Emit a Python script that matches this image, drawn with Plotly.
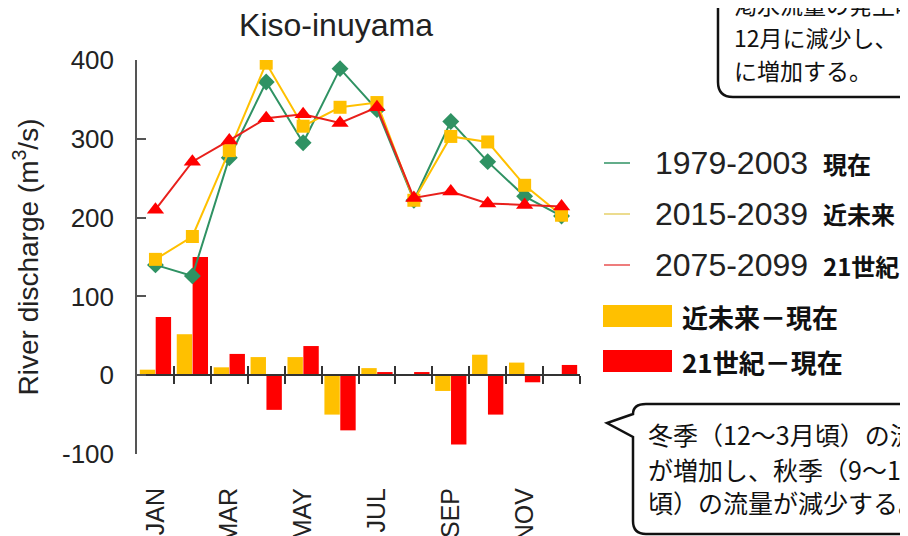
import plotly.graph_objects as go

# ---------------- data ----------------
months = ["JAN", "FEB", "MAR", "APR", "MAY", "JUN", "JUL", "AUG", "SEP", "OCT", "NOV", "DEC"]
month_num = list(range(1, 13))
tick_pos = [1, 3, 5, 7, 9, 11]
tick_months = ["JAN", "MAR", "MAY", "JUL", "SEP", "NOV"]
boundary_ticks = [1.5, 2.5, 3.5, 4.5, 5.5, 6.5, 7.5, 8.5, 9.5, 10.5, 11.5, 12.5]
y_ticks = [-100, 0, 100, 200, 300, 400]
y_tick_labels = ["-100", "0", "100", "200", "300", "400"]

present_1979_2003 = [140, 126, 276, 372, 295, 389, 337, 222, 322, 271, 227, 202]
near_2015_2039 = [147, 176, 285, 396, 316, 340, 346, 222, 303, 296, 241, 203]
late_2075_2099 = [210, 271, 298, 326, 331, 320, 340, 225, 233, 218, 216, 214]

diff_near_minus_present = [7, 52, 10, 23, 23, -50, 9, 0, -20, 26, 16, 0]
diff_late_minus_present = [74, 150, 27, -44, 37, -70, 4, 4, -88, -50, -9, 13]

series_names = ["1979-2003", "2015-2039", "2075-2099"]
series_tags = ["現在", "近未来", "21世紀"]
bar_names = ["近未来－現在", "21世紀－現在"]

# ---------------- styles ----------------
GREEN = "#2f9263"
YELLOW = "#ffc000"
RED = "#ff0000"
LATIN = "Liberation Sans, Arial, sans-serif"
CJK = "Noto Sans CJK JP, sans-serif"

W, H = 908, 536
OFF = 8  # page body margin: figure origin sits 8px right/down in the window
# plot area in window pixels
WL, WR, WT, WB = 137, 580, 60, 454
L, R, T, B = WL - OFF, WR - OFF, WT - OFF, WB - OFF


def px(x):
    """window x pixel -> paper fraction"""
    return (x - OFF - L) / (R - L)


def py(y):
    """window y pixel -> paper fraction"""
    return (B - (y - OFF)) / (B - T)


fig = go.Figure()

# difference bars (base axis, drawn below lines)
fig.add_trace(go.Bar(x=month_num, y=diff_near_minus_present, name=bar_names[0],
                     marker=dict(color=YELLOW, line=dict(width=0)), showlegend=False))
fig.add_trace(go.Bar(x=month_num, y=diff_late_minus_present, name=bar_names[1],
                     marker=dict(color=RED, line=dict(width=0)), showlegend=False))

# discharge lines (overlay axis on the zero line)
fig.add_trace(go.Scatter(x=month_num, y=present_1979_2003, name=series_names[0], xaxis="x2",
                         mode="lines+markers", line=dict(color=GREEN, width=2),
                         marker=dict(symbol="diamond", size=13, color=GREEN), showlegend=False))
fig.add_trace(go.Scatter(x=month_num, y=near_2015_2039, name=series_names[1], xaxis="x2",
                         mode="lines+markers", line=dict(color=YELLOW, width=2),
                         marker=dict(symbol="square", size=13, color=YELLOW), showlegend=False))
fig.add_trace(go.Scatter(x=month_num, y=late_2075_2099, name=series_names[2], xaxis="x2",
                         mode="lines+markers", line=dict(color="#e8201c", width=2),
                         marker=dict(symbol="triangle-up", size=15, color=RED), showlegend=False))
# carrier for the upward half of the zero-line ticks
fig.add_trace(go.Scatter(x=[None], y=[None], xaxis="x3", showlegend=False, hoverinfo="skip"))

x_range = [0.5, 12.5]
zero_pos = (0 - y_ticks[0]) / (y_ticks[-1] - y_ticks[0])

fig.update_layout(
    width=W, height=H,
    margin=dict(l=L, r=W - R, t=T, b=H - B, pad=0, autoexpand=False),
    paper_bgcolor="white", plot_bgcolor="white",
    barmode="group", bargap=0.14, bargroupgap=0.03,
    showlegend=False,
    title=dict(text="Kiso-inuyama", font=dict(family=LATIN, size=32, color="#222"),
               x=px(336), xref="paper", xanchor="center",
               y=1 - (25 - OFF) / H, yref="container", yanchor="middle", automargin=False),
    xaxis=dict(range=x_range, tickmode="array", tickvals=tick_pos, ticktext=tick_months,
               tickangle=-90, ticks="", showline=False, showgrid=False, zeroline=False,
               automargin=False,
               tickfont=dict(family=LATIN, size=25, color="#222"), ticklabelstandoff=28),
    xaxis2=dict(range=x_range, overlaying="x", anchor="free", position=zero_pos,
                tickmode="array", tickvals=boundary_ticks, ticks="outside", ticklen=8,
                tickwidth=1.5, tickcolor="#333", showline=True, linecolor="#333", linewidth=1.5,
                showticklabels=False, showgrid=False, zeroline=False, automargin=False),
    xaxis3=dict(range=x_range, overlaying="x", anchor="free", position=zero_pos,
                tickmode="array", tickvals=boundary_ticks, ticks="inside", ticklen=9,
                tickwidth=1.5, tickcolor="#333", showline=False,
                showticklabels=False, showgrid=False, zeroline=False, automargin=False),
    yaxis=dict(range=[y_ticks[0], y_ticks[-1]], tickmode="array", tickvals=y_ticks,
               ticktext=y_tick_labels,
               ticks="inside", ticklen=9, tickwidth=1.5, tickcolor="#555",
               showline=True, linecolor="#555", linewidth=1.5, showgrid=False, zeroline=False,
               automargin=False,
               tickfont=dict(family=LATIN, size=26, color="#222"), ticklabelstandoff=16,
               title=dict(text="River discharge (m<sup>3</sup>/s)", standoff=16,
                          font=dict(family=LATIN, size=28, color="#222"))),
)

shapes = []
annotations = []

# ---- custom legend ----
line_rows = [163, 214, 265]
line_cols = [GREEN, "#e6d06a", "#e85050"]
for yy, col, nm, tag in zip(line_rows, line_cols, series_names, series_tags):
    shapes.append(dict(type="line", xref="paper", yref="paper", x0=px(604), x1=px(630),
                       y0=py(yy), y1=py(yy), line=dict(color=col, width=1.5)))
    annotations.append(dict(xref="paper", yref="paper", x=px(653), y=py(yy), xanchor="left",
                            yanchor="middle", showarrow=False, text=nm,
                            font=dict(family=LATIN, size=32, color="#222")))
    annotations.append(dict(xref="paper", yref="paper", x=px(821), y=py(yy), xanchor="left",
                            yanchor="middle", showarrow=False, text="<b>" + tag + "</b>",
                            font=dict(family=CJK, size=24, color="#111")))

bar_rows = [(305, 327), (350, 372)]
for (y0, y1), col, nm in zip(bar_rows, [YELLOW, RED], bar_names):
    shapes.append(dict(type="rect", xref="paper", yref="paper", x0=px(603), x1=px(672),
                       y0=py(y1), y1=py(y0), fillcolor=col, line=dict(width=0)))
    annotations.append(dict(xref="paper", yref="paper", x=px(680), y=py((y0 + y1) / 2),
                            xanchor="left", yanchor="middle", showarrow=False,
                            text="<b>" + nm + "</b>",
                            font=dict(family=CJK, size=26, color="#111")))


def path_from(points_cmds):
    out = []
    for cmd in points_cmds:
        if cmd[0] in ("M", "L"):
            out.append(f"{cmd[0]} {px(cmd[1]):.5f},{py(cmd[2]):.5f}")
        elif cmd[0] == "Q":
            out.append(f"Q {px(cmd[1]):.5f},{py(cmd[2]):.5f} {px(cmd[3]):.5f},{py(cmd[4]):.5f}")
    return " ".join(out)


# ---- top callout ----
top_path = path_from([("M", 718, -20), ("L", 718, 82), ("Q", 718, 97, 733, 97),
                      ("L", 940, 97)])
shapes.append(dict(type="path", xref="paper", yref="paper", path=top_path,
                   line=dict(color="#111", width=2.5), fillcolor="rgba(0,0,0,0)"))
top_lines = [("渇水流量の発生時期が", 4), ("12月に減少し、", 37), ("に増加する。", 70)]
for txt, yy in top_lines:
    annotations.append(dict(xref="paper", yref="paper", x=px(732), y=py(yy), xanchor="left",
                            yanchor="middle", showarrow=False, text=txt,
                            font=dict(family=CJK, size=23, color="#111")))

# ---- bottom callout ----
bot_path = path_from([("M", 940, 404), ("L", 646, 404), ("Q", 633, 404, 633, 414),
                      ("L", 607, 423), ("L", 633, 437), ("L", 633, 521),
                      ("Q", 633, 534, 646, 534), ("L", 940, 534)])
shapes.append(dict(type="path", xref="paper", yref="paper", path=bot_path,
                   line=dict(color="#111", width=2.5), fillcolor="white"))
bot_lines = [("冬季（12～3月頃）の流量", 434), ("が増加し、秋季（9～11月", 469),
             ("頃）の流量が減少する。", 502)]
for txt, yy in bot_lines:
    annotations.append(dict(xref="paper", yref="paper", x=px(646), y=py(yy), xanchor="left",
                            yanchor="middle", showarrow=False, text=txt,
                            font=dict(family=CJK, size=25, color="#111")))

fig.update_layout(shapes=shapes, annotations=annotations)
fig.write_html("out.html")
